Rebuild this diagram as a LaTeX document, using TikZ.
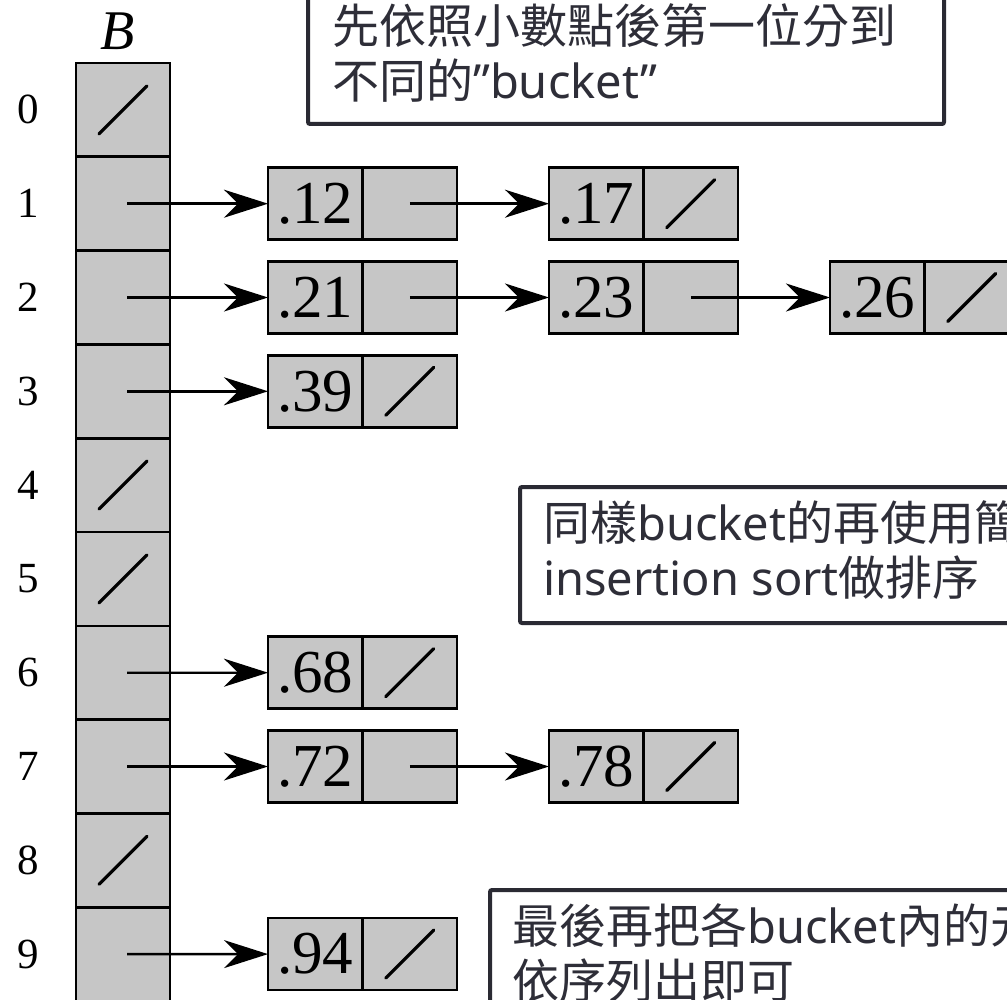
\documentclass[tikz,border=0pt]{standalone}
\usepackage{fontspec}
\setmainfont{Liberation Serif}
\newfontfamily\cjk{Noto Sans CJK TC}
\newfontfamily\lat{Noto Sans}
\usetikzlibrary{arrows.meta}
\definecolor{cellgray}{HTML}{C6C6C6}
\definecolor{boxline}{HTML}{2A2A33}
\definecolor{notetext}{HTML}{2E2E38}
\begin{document}
\begin{tikzpicture}[x=1pt,y=-1pt,
 cell/.style={draw=black, fill=cellgray, line width=2.6pt, minimum width=94pt, minimum height=93.8pt, inner sep=0pt, outer sep=0pt},
 half/.style={draw=black, fill=cellgray, line width=2.6pt, minimum width=94.5pt, minimum height=72pt, inner sep=0pt, outer sep=0pt, font=\fontsize{61}{61}\selectfont},
 idx/.style={font=\fontsize{43}{43}\selectfont, inner sep=0pt},
 ptr/.style={line width=2.4pt, -{Stealth[length=44pt,width=28pt,inset=14pt]}},
 slash/.style={line width=3.2pt, line cap=round},
 note/.style={draw=boxline, line width=4pt, fill=white, rounded corners=2pt},
 notetxt/.style={anchor=base west, inner sep=0pt, text=notetext, font=\fontsize{47}{47}\selectfont}
]
\useasboundingbox (0,0) rectangle (1007,1000);
\clip (0,0) rectangle (1007,1000);

% array B
\node[font=\fontsize{56}{56}\selectfont\itshape, inner sep=0pt] (B) at (118,31) {B};
\foreach \i in {0,...,9} {
  \node[cell] (b\i) at (123, {63+(\i+0.5)*93.8}) {};
  \node[idx] (l\i) at (28, {63+(\i+0.5)*93.8}) {\i};
}

% list nodes
\node[half] (v12) at (315.25,203.7) {.12};
\node[half] (p12) at (409.75,203.7) {};
\node[half] (v17) at (596.25,203.7) {.17};
\node[half] (p17) at (690.75,203.7) {};

\node[half] (v21) at (315.25,297.5) {.21};
\node[half] (p21) at (409.75,297.5) {};
\node[half] (v23) at (596.25,297.5) {.23};
\node[half] (p23) at (690.75,297.5) {};
\node[half] (v26) at (877.25,297.5) {.26};
\node[half] (p26) at (971.75,297.5) {};

\node[half] (v39) at (315.25,391.3) {.39};
\node[half] (p39) at (409.75,391.3) {};

\node[half] (v68) at (315.25,672.7) {.68};
\node[half] (p68) at (409.75,672.7) {};

\node[half] (v72) at (315.25,766.5) {.72};
\node[half] (p72) at (409.75,766.5) {};
\node[half] (v78) at (596.25,766.5) {.78};
\node[half] (p78) at (690.75,766.5) {};

\node[half] (v94) at (315.25,954.1) {.94};
\node[half] (p94) at (409.75,954.1) {};

% pointers
\draw[ptr] ([xshift=4pt]b1.center) -- (v12.west);
\draw[ptr] ([xshift=4pt]b2.center) -- (v21.west);
\draw[ptr] ([xshift=4pt]b3.center) -- (v39.west);
\draw[ptr] ([xshift=4pt]b6.center) -- (v68.west);
\draw[ptr] ([xshift=4pt]b7.center) -- (v72.west);
\draw[ptr] ([xshift=4pt]b9.center) -- (v94.west);
\draw[ptr] (p12.center) -- (v17.west);
\draw[ptr] (p21.center) -- (v23.west);
\draw[ptr] (p23.center) -- (v26.west);
\draw[ptr] (p72.center) -- (v78.west);

% null slashes
\foreach \n in {b0,b4,b5,b8,p17,p26,p39,p68,p78,p94} {
  \draw[slash] ([shift={(-24,24)}]\n.center) -- ([shift={(24,-24)}]\n.center);
}

% notes
\draw[note] (308,-10) rectangle (944,124);
\node[notetxt] (n1a) at (332,44) {\cjk 先依照小數點後第一位分到};
\node[notetxt] (n1b) at (332,99) {{\cjk 不同的}{\lat ”bucket”}};

\draw[note] (520,487) rectangle (1030,623);
\node[notetxt] (n2a) at (543,540) {{\cjk 同樣}{\lat bucket}{\cjk 的再使用簡}};
\node[notetxt] (n2b) at (543,595) {{\lat insertion sort}{\cjk 做排序}};

\draw[note] (490,890) rectangle (1030,1030);
\node[notetxt] (n3a) at (512,943) {{\cjk 最後再把各}{\lat bucket}{\cjk 內的元}};
\node[notetxt] (n3b) at (512,998) {\cjk 依序列出即可};
\end{tikzpicture}
\end{document}
